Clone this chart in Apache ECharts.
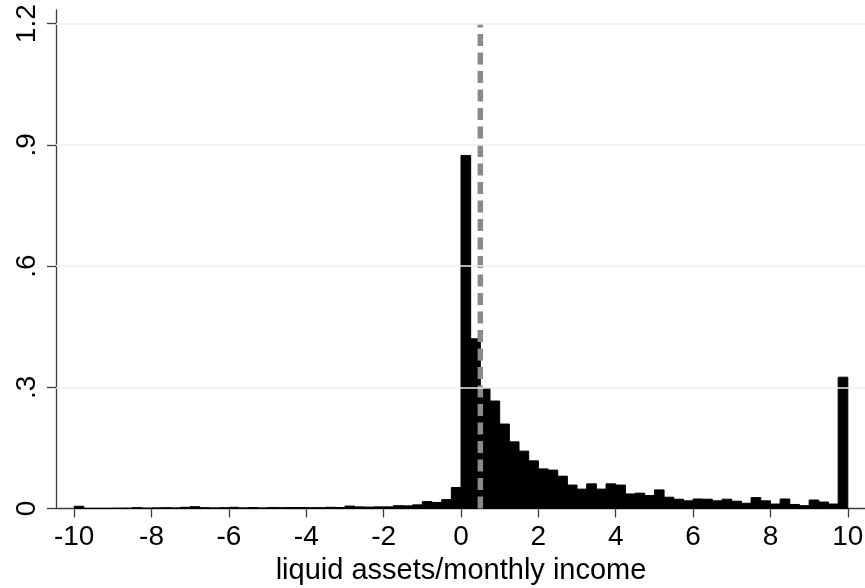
<!DOCTYPE html>
<html>
<head>
<meta charset="utf-8">
<script src="https://cdn.jsdelivr.net/npm/echarts@6/dist/echarts.min.js"></script>
<style>
  html, body { margin: 0; padding: 0; background: #fff; }
  #chart { width: 865px; height: 588px; }
</style>
</head>
<body>
<div id="chart"></div>
<script>
// Histogram of liquid assets relative to monthly income (bin width 0.25, density scale)
const binWidth = 0.25;
const binLower = [
  -10, -9.75, -9.5, -9.25, -9, -8.75, -8.5, -8.25, -8, -7.75,
  -7.5, -7.25, -7, -6.75, -6.5, -6.25, -6, -5.75, -5.5, -5.25,
  -5, -4.75, -4.5, -4.25, -4, -3.75, -3.5, -3.25, -3, -2.75,
  -2.5, -2.25, -2, -1.75, -1.5, -1.25, -1, -0.75, -0.5, -0.25,
  0, 0.25, 0.5, 0.75, 1, 1.25, 1.5, 1.75, 2, 2.25,
  2.5, 2.75, 3, 3.25, 3.5, 3.75, 4, 4.25, 4.5, 4.75,
  5, 5.25, 5.5, 5.75, 6, 6.25, 6.5, 6.75, 7, 7.25,
  7.5, 7.75, 8, 8.25, 8.5, 8.75, 9, 9.25, 9.5, 9.75
];
const density = [
  0.0055, 0.0005, 0.0005, 0.0005, 0.0008, 0.001, 0.002, 0.001, 0.0015, 0.002,
  0.0015, 0.003, 0.0045, 0.002, 0.0015, 0.002, 0.003, 0.0015, 0.0025, 0.0015,
  0.0025, 0.002, 0.0025, 0.0025, 0.002, 0.002, 0.003, 0.0025, 0.006, 0.004,
  0.0035, 0.004, 0.004, 0.007, 0.0065, 0.009, 0.017, 0.015, 0.022, 0.052,
  0.874, 0.42, 0.298, 0.266, 0.209, 0.165, 0.142, 0.118, 0.098, 0.095,
  0.080, 0.058, 0.048, 0.061, 0.048, 0.061, 0.058, 0.036, 0.038, 0.032,
  0.046, 0.028, 0.023, 0.019, 0.0235, 0.023, 0.019, 0.023, 0.018, 0.013,
  0.027, 0.019, 0.011, 0.0235, 0.010, 0.007, 0.021, 0.016, 0.011, 0.325
];
const xTickValues = [-10, -8, -6, -4, -2, 0, 2, 4, 6, 8, 10];
const yTickValues = [0, 0.3, 0.6, 0.9, 1.2];
const yGridValues = [0.3, 0.6, 0.9, 1.2];
const cutoff = 0.5;          // reference line position
const cutoffSpan = [0, 1.2]; // vertical extent of reference line

const chart = echarts.init(document.getElementById('chart'), null, { renderer: 'canvas' });

const fontFamily = '"Liberation Sans", Arial, Helvetica, sans-serif';
const axisColor = '#3c3c3c';

function fmtY(v) {
  if (v === 0) return '0';
  return String(+v.toFixed(1)).replace(/^0\./, '.');
}

chart.setOption({
  animation: false,
  backgroundColor: '#ffffff',
  grid: { left: 56, top: 10, width: 810, height: 498.5, containLabel: false, outerBoundsMode: 'none' },
  xAxis: {
    type: 'value',
    min: -10.47,
    max: 10.47,
    name: 'liquid assets/monthly income',
    nameLocation: 'middle',
    nameGap: 46,
    nameTextStyle: { color: '#000', fontSize: 29, fontFamily: fontFamily },
    axisLine: { show: true, onZero: false, lineStyle: { color: axisColor, width: 1.3 } },
    axisTick: { show: true, length: 9, customValues: xTickValues, lineStyle: { color: axisColor, width: 1.3 } },
    axisLabel: { show: true, customValues: xTickValues, margin: 15, color: '#000', fontSize: 28, fontFamily: fontFamily },
    splitLine: { show: false }
  },
  yAxis: {
    type: 'value',
    min: 0,
    max: 1.234,
    axisLine: { show: true, onZero: false, lineStyle: { color: axisColor, width: 1.3 } },
    axisTick: { show: true, length: 9, customValues: yTickValues, lineStyle: { color: axisColor, width: 1.3 } },
    axisLabel: { show: true, customValues: yTickValues, rotate: 90, margin: 15, color: '#000', fontSize: 28, fontFamily: fontFamily, formatter: fmtY },
    splitLine: { show: false }
  },
  series: [
    {
      // light horizontal gridlines
      type: 'line',
      data: [],
      silent: true,
      z: 1,
      markLine: {
        silent: true,
        symbol: ['none', 'none'],
        label: { show: false },
        lineStyle: { color: '#e9f0f1', width: 1.6, type: 'solid' },
        data: yGridValues.map(v => ({ yAxis: v }))
      }
    },
    {
      type: 'custom',
      z: 2,
      data: binLower.map((lo, i) => [lo, density[i]]),
      renderItem: function (params, api) {
        const lo = api.value(0);
        const h = api.value(1);
        const pTop = api.coord([lo, h]);
        const pBot = api.coord([lo + binWidth, 0]);
        return {
          type: 'rect',
          shape: { x: pTop[0], y: pTop[1], width: pBot[0] - pTop[0], height: pBot[1] - pTop[1] },
          style: { fill: '#000', stroke: '#000', lineWidth: 1 }
        };
      }
    },
    {
      type: 'line',
      z: 3,
      silent: true,
      symbol: 'none',
      data: [[cutoff, cutoffSpan[0]], [cutoff, cutoffSpan[1]]],
      lineStyle: { color: '#8a8a8a', width: 5.5, type: [12, 6.5] }
    }
  ]
});
</script>
</body>
</html>
